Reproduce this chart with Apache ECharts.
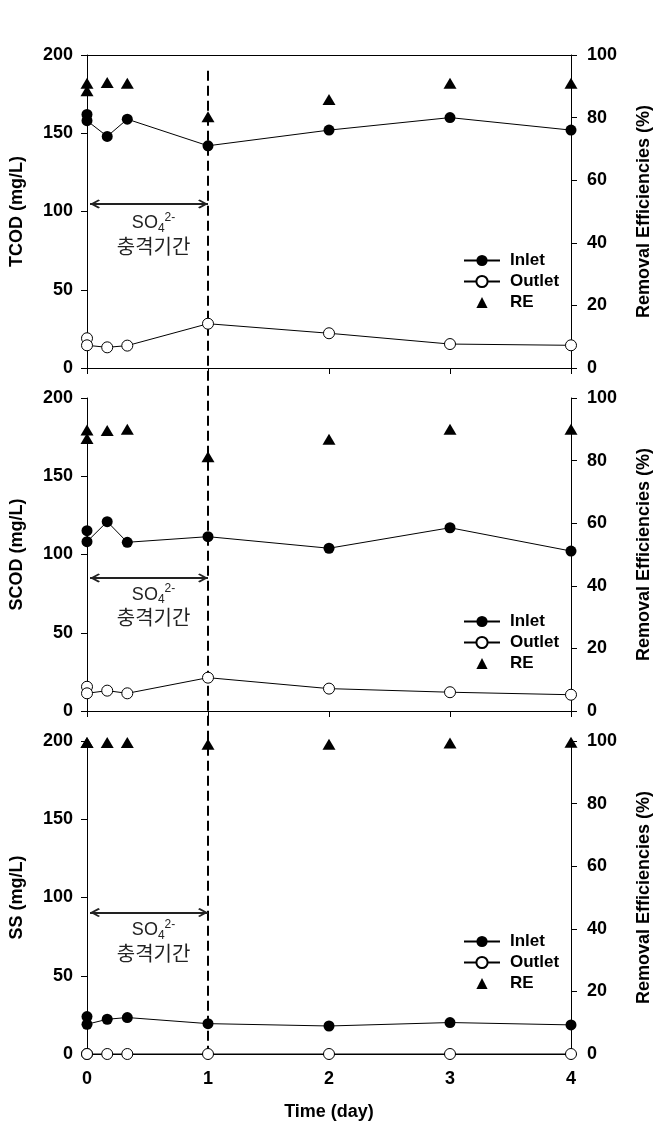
<!DOCTYPE html>
<html>
<head>
<meta charset="utf-8">
<script src="https://cdn.jsdelivr.net/npm/echarts@6/dist/echarts.min.js"></script>
<style>
  html, body { margin: 0; padding: 0; background: #fff; }
  #chart { width: 661px; height: 1130px; }
</style>
</head>
<body>
<div id="chart"></div>
<script>
// ---- data ----
const days = [0, 0, 0.167, 0.333, 1, 2, 3, 4];
const xTicks = [0, 1, 2, 3, 4];
const panelTitles = ['TCOD (mg/L)', 'SCOD (mg/L)', 'SS (mg/L)'];
const seriesNames = ['Inlet', 'Outlet', 'RE'];

const tcodInlet  = [162, 158, 148, 159, 142, 152, 160, 152];
const tcodOutlet = [19, 14.5, 13.2, 14.3, 28.3, 22.2, 15.3, 14.5];
const tcodRE     = [91, 88.6, 91.2, 91, 80.3, 85.8, 91, 91];

const scodInlet  = [115.2, 108.2, 121, 107.8, 111.4, 104, 117.1, 102.2];
const scodOutlet = [15.5, 11.3, 13, 11.3, 21.3, 14.3, 12, 10.4];
const scodRE     = [89.8, 87.1, 89.6, 90, 81.2, 86.8, 90, 90];

const ssInlet  = [23.9, 19, 22.2, 23.3, 19.4, 17.9, 20.1, 18.6];
const ssOutlet = [0, 0, 0, 0, 0, 0, 0, 0];
const ssRE     = [99.5, 99.5, 99.5, 99.5, 99, 99, 99.4, 99.6];

// shock period annotation: arrow level and text level (left-axis units)
const shockStart = 0.025, shockEnd = 1;
const arrowLevels = [104.8, 85, 90.4];
const textLevels  = [85.3, 67, 71.8];
const textX = 0.55;
const dashTop = 190;  // top of dashed line in first panel (mg/L)

const panels = [
  { inlet: tcodInlet, outlet: tcodOutlet, re: tcodRE },
  { inlet: scodInlet, outlet: scodOutlet, re: scodRE },
  { inlet: ssInlet,   outlet: ssOutlet,   re: ssRE }
];

// ---- layout / style ----
const FONT = 'Liberation Sans, Arial, sans-serif';
const gridTops = [55, 398, 741];
const gridH = 313;
const legendTops = [252, 613, 933];

const zip = vals => days.map((d, i) => [d, vals[i]]);

const chevron = 'path://M0,10 L10,0 L20,10 L17.5,12 L10,4.5 L2.5,12 Z M10,-12 L10,-12';

const grids = gridTops.map(t => ({ left: 86, width: 488, top: t, height: gridH }));

const xAxes = gridTops.map((t, i) => ({
  type: 'value', gridIndex: i, position: 'bottom', min: 0, max: 4, interval: 1,
  axisLine: { show: true, onZero: false, lineStyle: { color: '#000', width: 1 } },
  axisTick: { show: true, inside: false, length: 6, lineStyle: { color: '#000' } },
  axisLabel: { show: i === 2, color: '#000', fontFamily: FONT, fontWeight: 'bold', fontSize: 18, margin: 16 },
  splitLine: { show: false },
  name: i === 2 ? 'Time (day)' : '',
  nameLocation: 'middle', nameGap: 49,
  nameTextStyle: { color: '#000', fontFamily: FONT, fontWeight: 'bold', fontSize: 18 }
}));
xAxes.push({
  type: 'value', gridIndex: 0, position: 'top', min: 0, max: 4,
  axisLine: { show: true, onZero: false, lineStyle: { color: '#000', width: 1 } },
  axisTick: { show: false }, axisLabel: { show: false }, splitLine: { show: false }
});

const yAxes = [];
gridTops.forEach((t, i) => {
  yAxes.push({
    type: 'value', gridIndex: i, position: 'left', min: 0, max: 200, interval: 50,
    axisLine: { show: true, onZero: false, lineStyle: { color: '#000', width: 1 } },
    axisTick: { show: true, length: 6, lineStyle: { color: '#000' } },
    axisLabel: { color: '#000', fontFamily: FONT, fontWeight: 'bold', fontSize: 18, margin: 14 },
    splitLine: { show: false },
    name: panelTitles[i], nameLocation: 'middle', nameGap: 61,
    nameTextStyle: { color: '#000', fontFamily: FONT, fontWeight: 'bold', fontSize: 18 }
  });
  yAxes.push({
    type: 'value', gridIndex: i, position: 'right', min: 0, max: 100, interval: 20,
    axisLine: { show: true, onZero: false, lineStyle: { color: '#000', width: 1 } },
    axisTick: { show: true, length: 6, lineStyle: { color: '#000' } },
    axisLabel: { color: '#000', fontFamily: FONT, fontWeight: 'bold', fontSize: 18, margin: 16 },
    splitLine: { show: false },
    name: 'Removal Efficiencies (%)', nameLocation: 'middle', nameGap: 64,
    nameTextStyle: { color: '#000', fontFamily: FONT, fontWeight: 'bold', fontSize: 18 }
  });
});

const series = [];
panels.forEach((p, i) => {
  series.push({
    name: seriesNames[0], type: 'line', xAxisIndex: i, yAxisIndex: 2 * i,
    data: zip(p.inlet), symbol: 'circle', symbolSize: 11,
    itemStyle: { color: '#000' }, lineStyle: { color: '#000', width: 1 },
    z: 3,
    markLine: {
      silent: true, animation: false,
      symbol: [chevron, chevron], symbolSize: [9, 20],
      label: { show: false },
      lineStyle: { color: '#222', width: 2, type: 'solid' },
      data: [[{ coord: [shockStart, arrowLevels[i]] }, { coord: [shockEnd, arrowLevels[i]] }]]
    },
    markPoint: {
      silent: true, animation: false,
      symbol: 'circle', symbolSize: 1, itemStyle: { color: 'rgba(0,0,0,0)' },
      label: {
        show: true, position: 'inside',
        formatter: '{t|SO}{s|4}{p|2-}\n{k|충격기간}',
        rich: {
          t: { fontFamily: FONT, fontSize: 18, color: '#222', lineHeight: 23 },
          s: { fontFamily: FONT, fontSize: 12, color: '#222', lineHeight: 23, verticalAlign: 'bottom' },
          p: { fontFamily: FONT, fontSize: 12, color: '#222', lineHeight: 12, verticalAlign: 'top' },
          k: { fontFamily: 'Noto Sans CJK KR, sans-serif', fontSize: 20, color: '#222', lineHeight: 23 }
        }
      },
      data: [{ coord: [textX, textLevels[i]] }]
    }
  });
  series.push({
    name: seriesNames[1], type: 'line', xAxisIndex: i, yAxisIndex: 2 * i,
    data: zip(p.outlet), symbol: 'circle', symbolSize: 11,
    itemStyle: { color: '#fff', borderColor: '#000', borderWidth: 1 },
    lineStyle: { color: '#000', width: 1 }, z: 3
  });
  series.push({
    name: seriesNames[2], type: 'line', xAxisIndex: i, yAxisIndex: 2 * i + 1,
    data: zip(p.re), symbol: 'triangle', symbolSize: [13, 11],
    itemStyle: { color: '#000' }, lineStyle: { width: 0, opacity: 0 }, z: 3
  });
});

const legends = legendTops.map(t => ({
  orient: 'vertical', left: 463, top: t, padding: 0,
  itemWidth: 36, itemHeight: 14, itemGap: 4,
  selectedMode: false,
  data: seriesNames,
  textStyle: { color: '#000', fontFamily: FONT, fontWeight: 'bold', fontSize: 17, lineHeight: 17, padding: [0, 0, 0, 5] }
}));

const chart = echarts.init(document.getElementById('chart'), null, { renderer: 'canvas' });
chart.setOption({
  animation: false,
  backgroundColor: '#fff',
  grid: grids, xAxis: xAxes, yAxis: yAxes, series: series, legend: legends
});

// dashed vertical line at day 1 spanning all three panels
const pTop = chart.convertToPixel({ xAxisIndex: 0, yAxisIndex: 0 }, [shockEnd, dashTop]);
const pBot = chart.convertToPixel({ xAxisIndex: 2, yAxisIndex: 4 }, [shockEnd, 0]);
chart.setOption({
  graphic: [{
    type: 'line', silent: true, z: 2,
    shape: { x1: pTop[0], y1: pTop[1], x2: pBot[0], y2: pBot[1] },
    style: { stroke: '#000', lineWidth: 2, lineDash: [10, 5] }
  }]
});
</script>
</body>
</html>
